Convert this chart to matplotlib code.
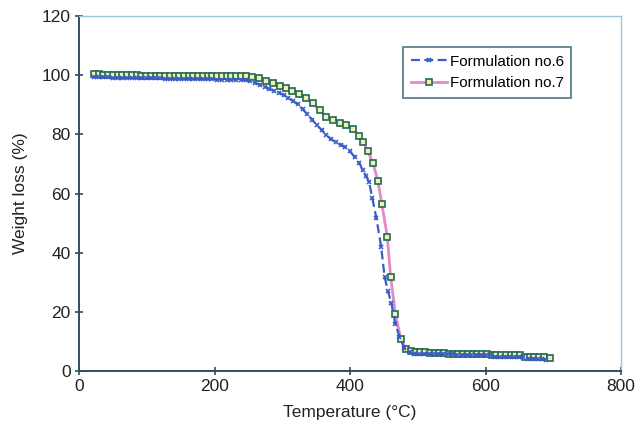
import matplotlib
matplotlib.use("Agg")
import matplotlib.pyplot as plt

plt.rcParams["font.family"] = ["Liberation Sans", "DejaVu Sans"]

# Formulation no.7 (square markers)
temp_7 = [22, 29, 36, 43, 50, 57, 64, 71, 78, 85, 92, 99, 106, 113, 120, 127, 134,
          141, 148, 155, 162, 169, 176, 183, 190, 197, 204, 211, 218, 225, 232, 239,
          246, 256, 266, 276, 286, 296, 306, 315, 325, 335, 345, 355, 365, 375, 385,
          394, 404, 414, 419, 426, 434, 441, 447, 455, 460, 467, 475, 483, 490, 497,
          504, 511, 518, 525, 532, 539, 546, 553, 560, 567, 574, 581, 588, 595, 602,
          609, 616, 623, 630, 637, 644, 651, 658, 665, 672, 679, 686, 695]
weight_7 = [100.3, 100.3, 100.2, 100.2, 100.1, 100.1, 100.1, 100.1, 100.1, 100.1,
            99.8, 99.8, 99.8, 99.8, 99.8, 99.8, 99.8, 99.8, 99.8, 99.8, 99.8, 99.8,
            99.8, 99.8, 99.8, 99.8, 99.8, 99.8, 99.8, 99.8, 99.8, 99.8, 99.7,
            99.5, 98.9, 98.0, 97.2, 96.4, 95.6, 94.7, 93.5, 92.2, 90.5, 88.2, 86.0,
            84.8, 83.7, 83.0, 81.8, 79.5, 77.5, 74.5, 70.3, 64.3, 56.5, 45.4, 31.9,
            19.3, 10.8, 7.3, 6.6, 6.3, 6.3, 6.3, 6.2, 6.2, 6.2, 6.2, 5.9, 5.9, 5.9,
            5.9, 5.9, 5.9, 5.9, 5.9, 5.9, 5.4, 5.4, 5.4, 5.4, 5.4, 5.4, 5.4, 4.9,
            4.9, 4.9, 4.9, 4.9, 4.5]

# Formulation no.6 (x markers)
temp_6 = [22, 29, 36, 43, 50, 57, 64, 71, 78, 85, 92, 99, 106, 113, 120, 127, 134,
          141, 148, 155, 162, 169, 176, 183, 190, 197, 204, 211, 218, 225, 232, 239,
          246, 253, 260, 267, 274, 281, 288, 295, 302, 309, 316, 323, 330, 337, 344,
          351, 358, 365, 372, 379, 386, 393, 400, 407, 414, 419, 424, 428, 433, 439,
          446, 451, 456, 461, 467, 473, 480, 488, 495, 502, 509, 516, 523, 530, 537,
          544, 551, 558, 565, 572, 579, 586, 593, 600, 607, 614, 621, 628, 635, 642,
          649, 656, 663, 670, 677, 684, 690]
weight_6 = [99.3, 99.3, 99.3, 99.3, 99.0, 99.0, 99.0, 99.0, 99.0, 99.0, 99.0, 99.0,
            99.0, 99.0, 99.0, 98.7, 98.7, 98.7, 98.7, 98.7, 98.7, 98.7, 98.6, 98.6,
            98.6, 98.6, 98.5, 98.5, 98.5, 98.5, 98.5, 98.4, 98.3, 98.0, 97.4, 96.8,
            96.1, 95.4, 94.8, 94.1, 93.3, 92.3, 91.3, 90.1, 88.5, 86.8, 85.0, 83.1,
            81.5, 79.8, 78.3, 77.4, 76.5, 75.6, 74.2, 72.3, 70.2, 67.8, 65.8, 64.0,
            58.4, 51.6, 42.0, 31.9, 27.0, 22.9, 15.9, 11.6, 7.8, 6.3, 5.9, 5.8, 5.8,
            5.8, 5.8, 5.8, 5.8, 5.8, 5.8, 5.5, 5.5, 5.5, 5.5, 5.5, 5.5, 5.5, 5.5,
            4.9, 4.9, 4.9, 4.9, 4.9, 4.9, 4.9, 4.2, 4.2, 4.2, 4.0, 3.8]

x_ticks = [0, 200, 400, 600, 800]
y_ticks = [0, 20, 40, 60, 80, 100, 120]

fig = plt.figure(figsize=(6.43, 4.30), dpi=100)
ax = fig.add_axes([79 / 643, 1 - 371 / 430, 542 / 643, 355 / 430])

ax.plot(temp_6, weight_6, color="#3a5cc8", linestyle=(0, (4, 2)), linewidth=1.6,
        marker="x", markersize=3.5, markeredgewidth=1.2, markeredgecolor="#3a5cc8",
        label="Formulation no.6", zorder=3)
ax.plot(temp_7, weight_7, color="#e38ac8", linewidth=2.0,
        marker="s", markersize=4.8, markerfacecolor="#f6eeb0",
        markeredgecolor="#1f6b58", markeredgewidth=1.2,
        label="Formulation no.7", zorder=2)

ax.set_xlim(0, 800)
ax.set_ylim(0, 120)
ax.set_xticks(x_ticks)
ax.set_yticks(y_ticks)
ax.tick_params(direction="inout", length=6, width=1.2, color="#2f4f5f",
               labelsize=12.5, labelcolor="#222222", pad=3)

for side in ("left", "bottom"):
    ax.spines[side].set_color("#2f4f5f")
    ax.spines[side].set_linewidth(1.4)
for side in ("top", "right"):
    ax.spines[side].set_color("#9cc4dc")
    ax.spines[side].set_linewidth(1.0)

ax.set_xlabel("Temperature (°C)", fontsize=12.5, color="#222222", labelpad=8)
ax.set_ylabel("Weight loss (%)", fontsize=12.5, color="#222222", labelpad=10)

leg = ax.legend(loc="upper left", bbox_to_anchor=(0.598, 0.913), borderaxespad=0,
                fontsize=11, frameon=True, fancybox=False, handlelength=2.4,
                handletextpad=0.15, borderpad=0.5, labelspacing=0.5)
leg.get_frame().set_edgecolor("#3f6e78")
leg.get_frame().set_linewidth(1.4)

fig.savefig("out.png", dpi=100)
